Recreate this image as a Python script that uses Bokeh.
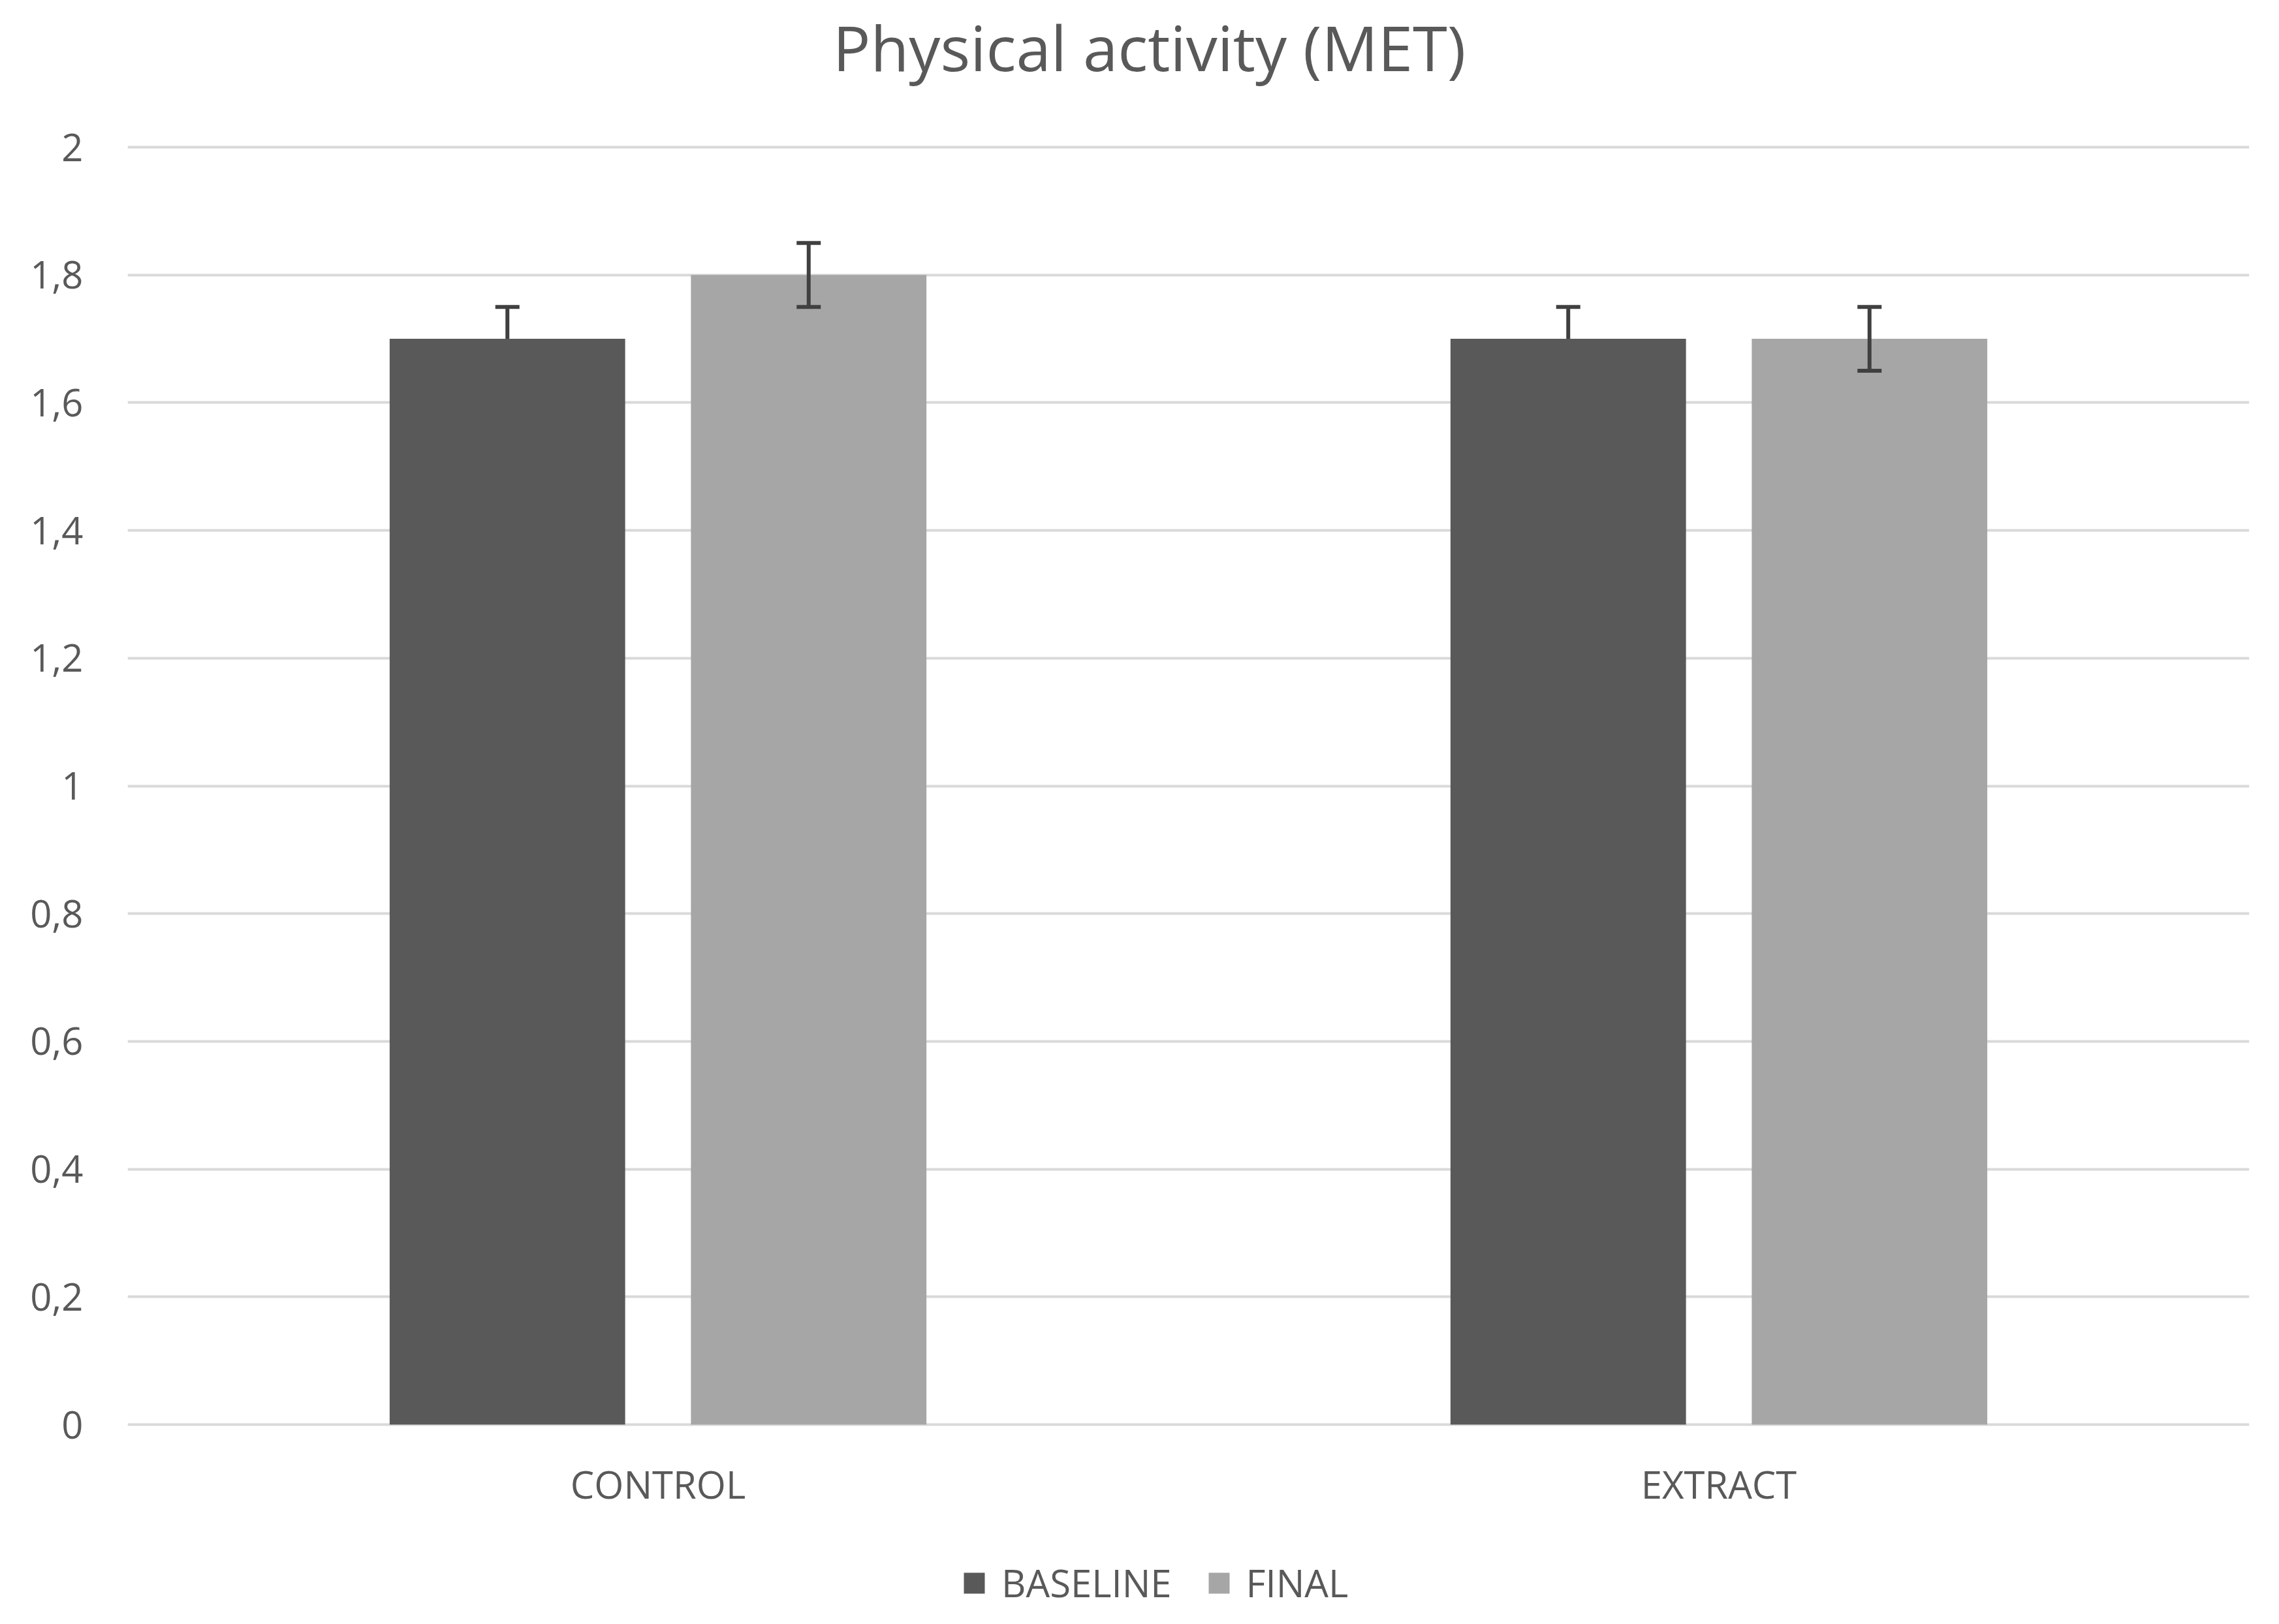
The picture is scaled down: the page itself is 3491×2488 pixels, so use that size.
from bokeh.plotting import figure
from bokeh.models import ColumnDataSource, FactorRange, Range1d, FixedTicker, Whisker, TeeHead, Legend, LegendItem, Label
from bokeh.core.properties import value
from bokeh.transform import dodge
from bokeh.embed import file_html
from bokeh.resources import INLINE

categories = ["CONTROL", "EXTRACT"]
baseline = [1.7, 1.7]
final = [1.8, 1.7]
baseline_err = [0.05, 0.05]
final_err = [0.05, 0.05]
y_ticks = [0, 0.2, 0.4, 0.6, 0.8, 1.0, 1.2, 1.4, 1.6, 1.8, 2.0]
y_tick_labels = ["0", "0,2", "0,4", "0,6", "0,8", "1", "1,2", "1,4", "1,6", "1,8", "2"]
title_text = "Physical activity (MET)"

FONT = "Open Sans"
TXT = "#595959"

source = ColumnDataSource(dict(
    cat=categories,
    baseline=baseline,
    final=final,
    b_lo=[v - e for v, e in zip(baseline, baseline_err)],
    b_hi=[v + e for v, e in zip(baseline, baseline_err)],
    f_lo=[v - e for v, e in zip(final, final_err)],
    f_hi=[v + e for v, e in zip(final, final_err)],
))

H = 2472
# value axis: 0 at 2182 px, 2 at 225 px (from top of canvas); frame spans whole height
PX_PER_UNIT = (2182 - 225) / 2.0
y_lo = -(H - 2182) / PX_PER_UNIT
y_hi = 2.0 + 225 / PX_PER_UNIT

p = figure(
    x_range=FactorRange(*categories),
    y_range=Range1d(y_lo, y_hi),
    width=3475, height=H,
    output_backend="svg", toolbar_location=None,
    x_axis_location=None,
    min_border_left=195, min_border_right=30,
    min_border_top=0, min_border_bottom=0,
)
p.outline_line_color = None
p.background_fill_color = "white"
p.border_fill_color = "white"

title = Label(x=1565, y=H - 71, x_units="screen", y_units="screen", text=title_text,
              text_align="center", text_baseline="middle", text_font=FONT,
              text_font_size="96px", text_color=TXT)
p.add_layout(title)

# grid
p.xgrid.grid_line_color = None
p.ygrid.grid_line_color = "#d9d9d9"
p.ygrid.grid_line_width = 4
p.yaxis.ticker = FixedTicker(ticks=y_ticks)
p.yaxis.major_label_overrides = {t: l for t, l in zip(y_ticks, y_tick_labels)}
p.yaxis.axis_line_color = None
p.yaxis.major_tick_line_color = None
p.yaxis.minor_tick_line_color = None
p.yaxis.major_label_standoff = 62
p.yaxis.major_label_text_font = FONT
p.yaxis.major_label_text_font_size = "58px"
p.yaxis.major_label_text_color = TXT

# category labels beneath the zero line
p.text(x=categories, y=[-(2273 - 2182) / PX_PER_UNIT] * len(categories), text=categories,
       text_font=value(FONT), text_font_size="58px", text_color=TXT,
       text_align="center", text_baseline="middle")

W = 0.222
OFF = 0.142

# baseline whiskers drawn beneath the bars (only the upper part shows)
wb = Whisker(base=dodge("cat", -OFF, range=p.x_range), lower="b_lo", upper="b_hi", source=source,
             line_color="#404040", line_width=6, level="underlay",
             upper_head=TeeHead(size=37, line_color="#404040", line_width=6),
             lower_head=TeeHead(size=37, line_color="#404040", line_width=6))
p.add_layout(wb)

rb = p.vbar(x=dodge("cat", -OFF, range=p.x_range), top="baseline", width=W, source=source,
            fill_color="#595959", line_color=None)
rf = p.vbar(x=dodge("cat", OFF, range=p.x_range), top="final", width=W, source=source,
            fill_color="#a6a6a6", line_color=None)

wf = Whisker(base=dodge("cat", OFF, range=p.x_range), lower="f_lo", upper="f_hi", source=source,
             line_color="#404040", line_width=6, level="annotation",
             upper_head=TeeHead(size=37, line_color="#404040", line_width=6),
             lower_head=TeeHead(size=37, line_color="#404040", line_width=6))
p.add_layout(wf)

legend = Legend(items=[LegendItem(label="BASELINE", renderers=[rb]),
                       LegendItem(label="FINAL", renderers=[rf])],
                orientation="horizontal", location=(1277, 8),
                label_text_font=FONT, label_text_font_size="58px", label_text_color=TXT,
                glyph_width=40, glyph_height=40, label_standoff=22, spacing=52,
                border_line_color=None, background_fill_alpha=0, padding=0, margin=0)
p.add_layout(legend)

open("out.html", "w").write(file_html(p, INLINE))
